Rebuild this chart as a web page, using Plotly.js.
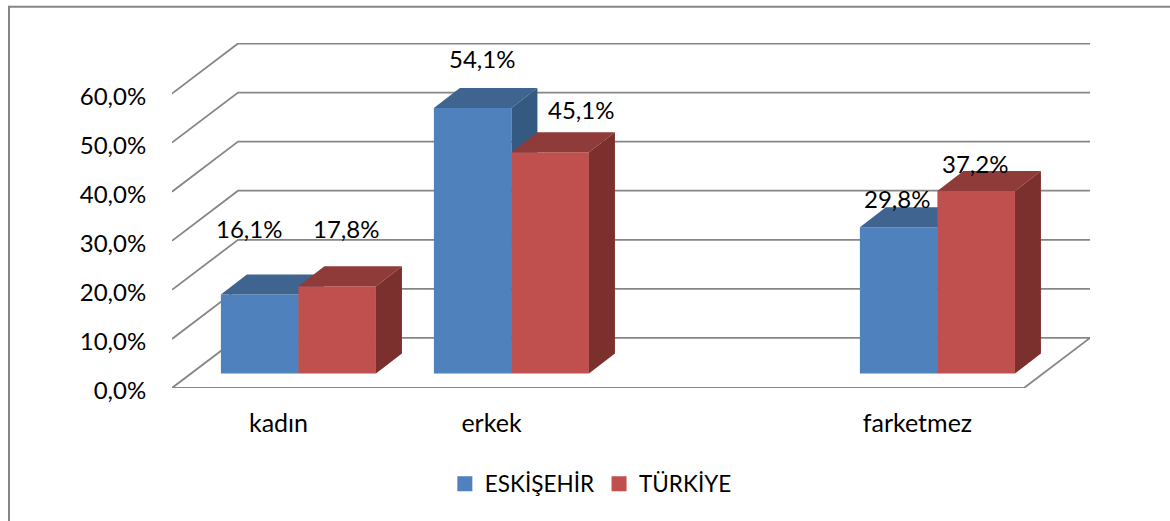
<!DOCTYPE html>
<html>
<head>
<meta charset="utf-8">
<script src="https://cdn.plot.ly/plotly-3.0.1.min.js"></script>
<style>html,body{margin:0;padding:0;background:#fff}#c{width:1170px;height:521px}</style>
</head>
<body>
<div id="c"></div>
<script>
// --- data ---
const categories = ['kadın', 'erkek', '', 'farketmez'];
const eskisehir = [16.1, 54.1, null, 29.8];
const turkiye = [17.8, 45.1, null, 37.2];
const seriesNames = ['ESKİŞEHİR', 'TÜRKİYE'];
const yTicks = [0, 10, 20, 30, 40, 50, 60];
const yTickLabels = ['0,0%', '10,0%', '20,0%', '30,0%', '40,0%', '50,0%', '60,0%'];

// --- geometry of the pseudo-3D box, in axis units ---
const FONT = 'Lato, Carlito, "Open Sans", sans-serif';
const xMin = -0.5, xFront = 3.5, wallDX = 0.31, wallDY = 10.2;
const barW = 0.364, groupShift = 0.0936, baseY = 2.95, depthX = 0.122, depthY = 4.07;
const yMax = 70.3;
const gridColor = '#868686';

const styles = [
  {front: '#4F81BD', top: '#3F648F', side: '#355A82'},
  {front: '#C0504D', top: '#8F3B39', side: '#7C302E'}
];
// pixel nudges of the value labels, relative to the top of each front face
const labelShift = [
  [[-11, 66], [9, 50], null, [-2, 29]],
  [[9, 58], [31, 43], null, [-1, 27]]
];

const idx = categories.map((_, i) => i);
const barLeft = (i, s) => i + groupShift - barW + s * barW;

function polygons(values, s, kind) {
  const xs = [], ys = [];
  values.forEach((v, i) => {
    if (v === null) return;
    const l = barLeft(i, s), r = l + barW, t = v + baseY, b = baseY;
    if (kind === 'top') {
      xs.push(l, r, r + depthX, l + depthX, l, null);
      ys.push(t, t, t + depthY, t + depthY, t, null);
    } else {
      xs.push(r, r + depthX, r + depthX, r, r, null);
      ys.push(b, b + depthY, t + depthY, t, b, null);
    }
  });
  return {x: xs, y: ys};
}

function seriesTraces(values, s, xa, ya) {
  const st = styles[s];
  const kept = idx.filter(i => values[i] !== null);
  const out = [];
  out.push({type: 'bar', xaxis: xa, yaxis: ya, x: kept.map(i => barLeft(i, s) + barW / 2),
    y: kept.map(i => values[i]), base: baseY, width: barW,
    marker: {color: st.front, line: {width: 0}}, showlegend: false, hoverinfo: 'skip'});
  ['top', 'side'].forEach(k => {
    const p = polygons(values, s, k);
    out.push({type: 'scatter', mode: 'lines', xaxis: xa, yaxis: ya, x: p.x, y: p.y, fill: 'toself',
      fillcolor: st[k], line: {width: 0, color: st[k]}, showlegend: false, hoverinfo: 'skip'});
  });
  out.push({type: 'scatter', mode: 'markers', xaxis: xa, yaxis: ya, x: [null], y: [null], name: seriesNames[s],
    marker: {symbol: 'square', size: 15, color: st.front}, hoverinfo: 'skip'});
  return out;
}

const traces = [
  ...seriesTraces(eskisehir, 0, 'x', 'y'),
  ...seriesTraces(turkiye, 1, 'x2', 'y2')
];

// walls and floor
const shapes = yTicks.map(v => ({
  type: 'path', xref: 'x', yref: 'y', layer: 'below',
  path: `M${xMin},${v} L${xMin + wallDX},${v + wallDY} L${xFront + wallDX},${v + wallDY}` + (v === 0 ? ` L${xFront},0 Z` : ''),
  line: {color: gridColor, width: 1.8}
}));
// chart frame: the picture is cropped, only its top and left edges show
const W = 918, H = 345, L = 172, T = 43;
const fx = px => (px - L) / W, fy = py => 1 - (py - T) / H;
shapes.push({type: 'line', xref: 'paper', yref: 'paper', layer: 'below',
  x0: fx(9), x1: fx(1171), y0: fy(6.8), y1: fy(6.8), line: {color: gridColor, width: 2}});
shapes.push({type: 'line', xref: 'paper', yref: 'paper', layer: 'below',
  x0: fx(9), x1: fx(9), y0: fy(5.8), y1: fy(522), line: {color: gridColor, width: 2}});

const fmt = v => v.toFixed(1).replace('.', ',') + '%';
const annotations = [];
[eskisehir, turkiye].forEach((vals, s) => vals.forEach((v, i) => {
  if (v === null) return;
  annotations.push({xref: 'x', yref: 'y', x: barLeft(i, s) + barW / 2, y: v + baseY, text: fmt(v), showarrow: false,
    xshift: labelShift[s][i][0], yshift: labelShift[s][i][1], font: {family: FONT, size: 24, color: '#000'}});
}));

const layout = {
  width: 1170, height: 521, paper_bgcolor: '#fff', plot_bgcolor: 'rgba(0,0,0,0)',
  margin: {l: L, t: T, r: 1170 - L - W, b: 521 - T - H, pad: 0},
  barmode: 'overlay', showlegend: true, shapes, annotations,
  font: {family: FONT, size: 22, color: '#000'},
  xaxis: {range: [xMin, xFront + wallDX], tickmode: 'array', tickvals: idx.filter(i => categories[i]),
    ticktext: categories.filter(c => c), showgrid: false, zeroline: false, showline: false,
    ticks: 'outside', ticklen: 13, tickcolor: 'rgba(0,0,0,0)', tickfont: {family: FONT, size: 25, color: '#000'}},
  yaxis: {range: [0, yMax], tickmode: 'array', tickvals: yTicks, ticktext: yTickLabels, showgrid: false, zeroline: false,
    showline: false, ticks: 'outside', ticklen: 20, tickcolor: 'rgba(0,0,0,0)', ticklabelshift: 3, tickfont: {family: FONT, size: 24, color: '#000'}},
  xaxis2: {range: [xMin, xFront + wallDX], overlaying: 'x', visible: false},
  yaxis2: {range: [0, yMax], overlaying: 'y', visible: false},
  legend: {orientation: 'h', x: 0.505, xref: 'container', xanchor: 'center', y: 0.071, yref: 'container', yanchor: 'middle',
    font: {family: FONT, size: 22.5, color: '#000'}, bgcolor: 'rgba(0,0,0,0)', traceorder: 'normal'}
};
Plotly.newPlot('c', traces, layout, {displayModeBar: false, staticPlot: true});
</script>
</body>
</html>
